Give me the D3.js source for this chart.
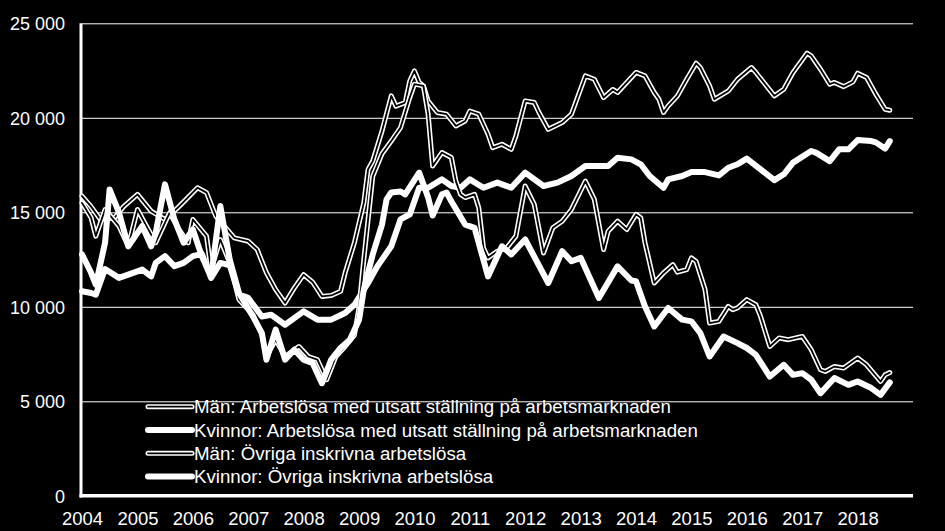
<!DOCTYPE html>
<html>
<head>
<meta charset="utf-8">
<script src="https://cdn.jsdelivr.net/npm/d3@7"></script>
<style>
  body { margin: 0; background: #000; }
  svg text { font-family: "Liberation Sans", Arial, sans-serif; fill: #fff; }
</style>
</head>
<body>
<svg id="chart" width="945" height="531"></svg>
<script>
const yearLabels = ['2004', '2005', '2006', '2007', '2008', '2009', '2010', '2011',
  '2012', '2013', '2014', '2015', '2016', '2017', '2018']
const yTicks = [0, 5000, 10000, 15000, 20000, 25000]

// monthly readings [month, antal]
const manUtsatt = [
  ['2004-01', 15860], ['2004-03', 15300], ['2004-05', 14620], ['2004-08', 14700], ['2004-10', 15300],
  ['2005-01', 15950], ['2005-04', 15060], ['2005-07', 14620], ['2005-10', 15300], ['2006-02', 16300],
  ['2006-04', 16040], ['2006-06', 14800], ['2006-10', 13650], ['2007-01', 13470], ['2007-03', 13030],
  ['2007-05', 11800], ['2007-07', 10910], ['2007-09', 10200], ['2007-11', 11000], ['2008-01', 11700],
  ['2008-03', 11300], ['2008-05', 10550], ['2008-07', 10600], ['2008-09', 10820], ['2008-10', 11800],
  ['2008-12', 13390], ['2009-02', 15500], ['2009-03', 17270], ['2009-04', 17710], ['2009-06', 19300],
  ['2009-08', 21160], ['2009-09', 20620], ['2009-11', 20800], ['2009-12', 21950], ['2010-01', 22480],
  ['2010-02', 21870], ['2010-03', 21690], ['2010-04', 20890], ['2010-06', 20280], ['2010-08', 20190],
  ['2010-10', 19570], ['2010-12', 19830], ['2011-01', 20360], ['2011-03', 20190], ['2011-05', 19130],
  ['2011-06', 18420], ['2011-08', 18600], ['2011-10', 18330], ['2011-11', 19040], ['2012-01', 20890],
  ['2012-03', 20810], ['2012-04', 20280], ['2012-06', 19390], ['2012-09', 19750], ['2012-11', 20190],
  ['2013-02', 22220], ['2013-04', 22040], ['2013-06', 21070], ['2013-08', 21500], ['2013-09', 21340],
  ['2014-01', 22400], ['2014-03', 22220], ['2014-05', 21340], ['2014-06', 20980], ['2014-07', 20280],
  ['2014-08', 20630], ['2014-10', 21160], ['2014-12', 22040], ['2015-02', 22890], ['2015-03', 22660],
  ['2015-05', 21690], ['2015-06', 20980], ['2015-09', 21420], ['2015-11', 22040], ['2016-02', 22660],
  ['2016-03', 22400], ['2016-07', 21160], ['2016-09', 21510], ['2016-11', 22400], ['2017-02', 23420],
  ['2017-03', 23280], ['2017-05', 22570], ['2017-07', 21780], ['2017-08', 21870], ['2017-10', 21650],
  ['2017-12', 21900], ['2018-01', 22360], ['2018-03', 22130], ['2018-05', 21250], ['2018-07', 20450],
  ['2018-08', 20400]
]

const kvinnorUtsatt = [
  ['2004-01', 10820], ['2004-03', 10730], ['2004-04', 10640], ['2004-06', 12000], ['2004-09', 11530],
  ['2004-11', 11700], ['2005-02', 11970], ['2005-04', 11610], ['2005-05', 12320], ['2005-07', 12680],
  ['2005-09', 12150], ['2005-11', 12320], ['2006-01', 12680], ['2006-03', 12800], ['2006-05', 11530],
  ['2006-07', 12320], ['2006-09', 12200], ['2006-11', 10640], ['2007-01', 10470], ['2007-04', 9490],
  ['2007-06', 9580], ['2007-09', 9050], ['2008-01', 9760], ['2008-04', 9320], ['2008-07', 9320],
  ['2008-10', 9670], ['2008-12', 10110], ['2009-03', 11260], ['2009-05', 12140], ['2009-08', 13200],
  ['2009-10', 14620], ['2009-12', 14890], ['2010-02', 16300], ['2010-04', 16300], ['2010-07', 16740],
  ['2010-09', 16390], ['2010-11', 16300], ['2011-01', 16740], ['2011-04', 16300], ['2011-07', 16570],
  ['2011-10', 16300], ['2012-01', 17100], ['2012-05', 16390], ['2012-08', 16570], ['2012-11', 16920],
  ['2013-02', 17450], ['2013-07', 17450], ['2013-09', 17890], ['2013-12', 17800], ['2014-02', 17540],
  ['2014-04', 16920], ['2014-07', 16300], ['2014-08', 16740], ['2014-11', 16920], ['2015-01', 17130],
  ['2015-04', 17130], ['2015-07', 16950], ['2015-09', 17360], ['2015-11', 17540], ['2016-01', 17840],
  ['2016-04', 17270], ['2016-07', 16700], ['2016-09', 17010], ['2016-11', 17630], ['2017-03', 18240],
  ['2017-04', 18160], ['2017-07', 17710], ['2017-09', 18330], ['2017-11', 18330], ['2018-01', 18820],
  ['2018-04', 18770], ['2018-05', 18700], ['2018-07', 18370], ['2018-08', 18770]
]

const manOvriga = [
  ['2004-01', 15500], ['2004-03', 14710], ['2004-04', 13740], ['2004-06', 15150], ['2004-09', 14270],
  ['2004-11', 13200], ['2005-01', 15150], ['2005-03', 14270], ['2005-05', 13390], ['2005-08', 14980],
  ['2005-10', 14090], ['2005-12', 13390], ['2006-01', 14620], ['2006-04', 13740], ['2006-05', 11970],
  ['2006-07', 13560], ['2006-09', 12320], ['2006-11', 10380], ['2007-02', 9580], ['2007-04', 8520],
  ['2007-05', 7370], ['2007-07', 8260], ['2007-09', 7370], ['2007-12', 7900], ['2008-02', 7370],
  ['2008-04', 7200], ['2008-06', 6140], ['2008-08', 7370], ['2008-10', 7900], ['2008-12', 8500],
  ['2009-01', 10000], ['2009-02', 12500], ['2009-03', 14600], ['2009-04', 16900], ['2009-06', 18100],
  ['2009-08', 18770], ['2009-10', 19480], ['2009-12', 21070], ['2010-01', 21780], ['2010-03', 21690],
  ['2010-04', 20190], ['2010-05', 17450], ['2010-07', 18160], ['2010-09', 17900], ['2010-10', 16650],
  ['2010-11', 15950], ['2010-12', 15780], ['2011-02', 15950], ['2011-03', 15240], ['2011-04', 13120],
  ['2011-05', 12590], ['2011-07', 12940], ['2011-09', 13120], ['2011-11', 13740], ['2012-01', 16390],
  ['2012-03', 15420], ['2012-05', 12850], ['2012-07', 14180], ['2012-09', 14530], ['2012-11', 15150],
  ['2013-02', 16650], ['2013-04', 15680], ['2013-06', 13030], ['2013-07', 14000], ['2013-09', 14530],
  ['2013-11', 14090], ['2014-01', 14890], ['2014-02', 14710], ['2014-03', 13390], ['2014-05', 11260],
  ['2014-07', 11790], ['2014-09', 12230], ['2014-10', 11830], ['2014-12', 11970], ['2015-01', 12590],
  ['2015-02', 12400], ['2015-04', 10910], ['2015-05', 9140], ['2015-07', 9230], ['2015-09', 10020],
  ['2015-10', 9850], ['2015-11', 9940], ['2016-01', 10380], ['2016-03', 10110], ['2016-04', 9490],
  ['2016-06', 7900], ['2016-08', 8350], ['2016-10', 8260], ['2017-01', 8430], ['2017-03', 7730],
  ['2017-05', 6670], ['2017-06', 6580], ['2017-08', 6840], ['2017-10', 6760], ['2018-01', 7290],
  ['2018-03', 6930], ['2018-06', 6050], ['2018-07', 6400], ['2018-08', 6520]
]

const kvinnorOvriga = [
  ['2004-01', 12770], ['2004-03', 11800], ['2004-04', 11170], ['2004-06', 13390], ['2004-07', 16210],
  ['2004-09', 14980], ['2004-11', 13200], ['2005-02', 14270], ['2005-04', 13200], ['2005-05', 13910],
  ['2005-07', 16480], ['2005-09', 14620], ['2005-11', 13390], ['2006-01', 14090], ['2006-03', 12680],
  ['2006-05', 11610], ['2006-07', 15330], ['2006-09', 12500], ['2006-11', 10730], ['2007-02', 9490],
  ['2007-04', 8610], ['2007-05', 7200], ['2007-07', 8790], ['2007-09', 7200], ['2007-11', 7730],
  ['2008-01', 7200], ['2008-03', 7020], ['2008-05', 5960], ['2008-07', 7200], ['2008-09', 7820],
  ['2008-11', 8260], ['2009-01', 9320], ['2009-02', 10910], ['2009-04', 12770], ['2009-06', 14350],
  ['2009-07', 15680], ['2009-08', 16050], ['2009-10', 16100], ['2009-11', 15950], ['2010-02', 17100],
  ['2010-04', 15790], ['2010-05', 14830], ['2010-07', 15950], ['2010-08', 16040], ['2010-09', 15580],
  ['2010-12', 14350], ['2011-02', 14180], ['2011-05', 11610], ['2011-08', 13200], ['2011-10', 12770],
  ['2012-01', 13560], ['2012-06', 11260], ['2012-09', 12940], ['2012-11', 12410], ['2013-01', 12590],
  ['2013-05', 10470], ['2013-09', 12140], ['2013-12', 11390], ['2014-01', 11350], ['2014-03', 10020],
  ['2014-05', 8960], ['2014-08', 9940], ['2014-11', 9320], ['2015-01', 9230], ['2015-03', 8610],
  ['2015-05', 7370], ['2015-08', 8430], ['2015-11', 8080], ['2016-01', 7820], ['2016-03', 7460],
  ['2016-06', 6310], ['2016-09', 6930], ['2016-11', 6400], ['2017-01', 6490], ['2017-03', 6140],
  ['2017-05', 5430], ['2017-08', 6230], ['2017-11', 5870], ['2018-01', 6050], ['2018-04', 5700],
  ['2018-06', 5340], ['2018-08', 6000]
]

const seriesNames = [
  'Män: Arbetslösa med utsatt ställning på arbetsmarknaden',
  'Kvinnor: Arbetslösa med utsatt ställning på arbetsmarknaden',
  'Män: Övriga inskrivna arbetslösa',
  'Kvinnor: Övriga inskrivna arbetslösa'
]

const series = [
  { name: seriesNames[0], values: manUtsatt, style: 'double' },
  { name: seriesNames[1], values: kvinnorUtsatt, style: 'thick' },
  { name: seriesNames[2], values: manOvriga, style: 'double' },
  { name: seriesNames[3], values: kvinnorOvriga, style: 'thick' }
]

const svg = d3.select('#chart')
const plot = { left: 82, right: 913, top: 23.3, bottom: 495.8 }

const parseMonth = d3.timeParse('%Y-%m')
const svFormat = d3.formatLocale({ decimal: ',', thousands: ' ', grouping: [3], currency: ['', ' kr'] }).format(',')

const x = d3.scaleTime()
  .domain([new Date(2004, 0, 1), new Date(2019, 0, 1)])
  .range([plot.left, plot.right])

const y = d3.scaleLinear()
  .domain([0, 25000])
  .range([plot.bottom, plot.top])

// gridlines + y labels
const yAxis = svg.append('g')
  .attr('transform', `translate(${plot.left}, 0)`)
  .call(d3.axisLeft(y)
    .tickValues(yTicks)
    .tickSize(-(plot.right - plot.left))
    .tickPadding(17)
    .tickFormat(svFormat))

yAxis.select('.domain').remove()
yAxis.selectAll('.tick line')
  .attr('stroke', '#fff')
  .attr('stroke-width', 1)
yAxis.selectAll('.tick text')
  .attr('font-size', '18px')
  .attr('font-family', '"Liberation Sans", Arial, sans-serif')
  .attr('fill', '#fff')
  .attr('dy', '0.36em')

// x labels
const xAxis = svg.append('g')
  .attr('transform', `translate(0, ${plot.bottom})`)
  .call(d3.axisBottom(x)
    .tickValues(yearLabels.map(d => new Date(+d, 0, 1)))
    .tickSize(0)
    .tickPadding(16)
    .tickFormat(d3.timeFormat('%Y')))

xAxis.select('.domain').remove()
xAxis.selectAll('.tick text')
  .attr('font-size', '18.5px')
  .attr('font-family', '"Liberation Sans", Arial, sans-serif')
  .attr('fill', '#fff')

// axis frame
svg.append('line')
  .attr('x1', plot.left - 1).attr('x2', plot.left - 1)
  .attr('y1', plot.top).attr('y2', plot.bottom + 1.8)
  .attr('stroke', '#fff')
  .attr('stroke-width', 3)

svg.append('line')
  .attr('x1', plot.left - 2.5).attr('x2', plot.right)
  .attr('y1', plot.bottom).attr('y2', plot.bottom)
  .attr('stroke', '#fff')
  .attr('stroke-width', 3.5)

const line = d3.line()
  .x(d => x(parseMonth(d[0])))
  .y(d => y(d[1]))

const drawSeries = (g, s, path) => {
  if (s.style === 'double') {
    g.append('path')
      .attr('d', path)
      .attr('fill', 'none')
      .attr('stroke', '#fff')
      .attr('stroke-width', 5)
      .attr('stroke-linejoin', 'round')
      .attr('stroke-linecap', 'round')
    g.append('path')
      .attr('d', path)
      .attr('fill', 'none')
      .attr('stroke', '#000')
      .attr('stroke-width', 1.8)
      .attr('stroke-linejoin', 'round')
      .attr('stroke-linecap', 'round')
  } else {
    g.append('path')
      .attr('d', path)
      .attr('fill', 'none')
      .attr('stroke', '#fff')
      .attr('stroke-width', 6)
      .attr('stroke-linejoin', 'round')
      .attr('stroke-linecap', 'round')
  }
}

const lines = svg.append('g').attr('class', 'lines')
series.forEach(s => {
  drawSeries(lines.append('g').attr('class', 'line'), s, line(s.values))
})

// legend
const legend = svg.append('g').attr('class', 'legend')
series.forEach((s, i) => {
  const ly = 406.7 + i * 23.3
  const item = legend.append('g')
  drawSeries(item, s, `M148,${ly}L192,${ly}`)
  item.append('text')
    .attr('x', 194)
    .attr('y', ly + 6.7)
    .attr('font-size', '18.7px')
    .text(s.name)
})
</script>
</body>
</html>
